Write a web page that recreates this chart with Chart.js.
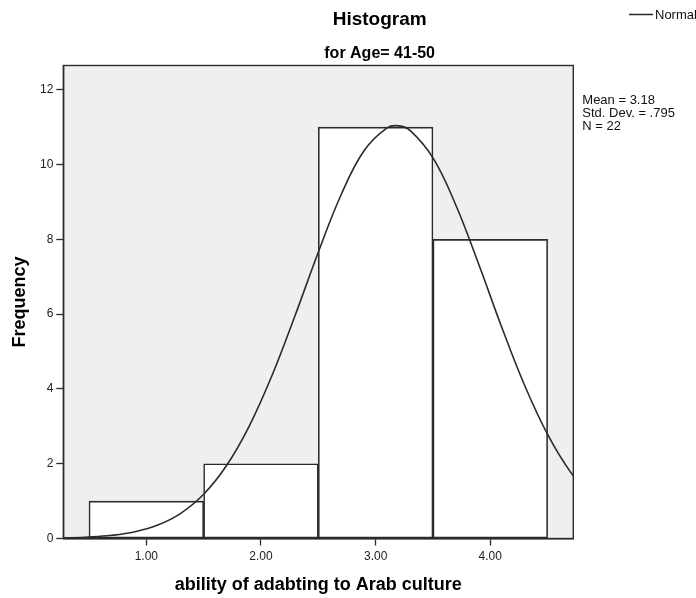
<!DOCTYPE html>
<html>
<head>
<meta charset="utf-8">
<script src="https://cdn.jsdelivr.net/npm/chart.js@4/dist/chart.umd.min.js"></script>
<style>
  html, body { margin: 0; padding: 0; background: #fff; }
  canvas { display: block; }
</style>
</head>
<body>
<canvas id="histChart" width="696" height="598"></canvas>
<script>
// histogram bins (centres) and counts
const binCenters = [1, 2, 3, 4];
const frequencies = [1, 2, 11, 8];

// normal curve
const curveX = [0.1, 0.3, 0.5, 0.7, 0.9, 1.1, 1.3, 1.5, 1.7, 1.9, 2.1, 2.3, 2.5, 2.7, 2.9, 3.1, 3.2, 3.3, 3.5, 3.7, 3.9, 4.1, 4.3, 4.5, 4.7, 4.9];
const curveY = [0.006, 0.016, 0.038, 0.085, 0.181, 0.36, 0.674, 1.183, 1.952, 3.021, 4.387, 5.983, 7.657, 9.201, 10.377, 10.984, 11.036, 10.915, 10.181, 8.914, 7.326, 5.651, 4.093, 2.782, 1.775, 1.063];

// tick labels
const xTickValues = [1, 2, 3, 4];
const yTickValues = [0, 2, 4, 6, 8, 10, 12];

const statLines = ["Mean = 3.18", "Std. Dev. = .795", "N = 22"];

const FONT = 'Arial, "Liberation Sans", sans-serif';
const INK = "#2b2b2b";

// gray plot background, frame and the SPSS-style texts
const spssDecor = {
  id: "spssDecor",
  beforeDraw(chart) {
    const { ctx, chartArea: a } = chart;
    ctx.save();
    ctx.fillStyle = "#efefef";
    ctx.fillRect(a.left, a.top, a.right - a.left, a.bottom - a.top);
    ctx.restore();
  },
  afterDatasetsDraw(chart) {
    const { ctx, chartArea: a } = chart;
    ctx.save();
    ctx.strokeStyle = INK;
    ctx.lineWidth = 1.4;
    ctx.strokeRect(a.left, a.top, a.right - a.left, a.bottom - a.top);
    ctx.restore();
  },
  afterDraw(chart) {
    const ctx = chart.ctx;
    const cx = (chart.chartArea.left + chart.width) / 2;
    ctx.save();
    ctx.fillStyle = "#000";
    ctx.textAlign = "center";
    ctx.textBaseline = "alphabetic";
    ctx.font = "bold 19px " + FONT;
    ctx.fillText("Histogram", cx, 25);
    ctx.font = "bold 16px " + FONT;
    ctx.fillText("for Age= 41-50", cx, 58);

    // legend
    ctx.strokeStyle = INK;
    ctx.lineWidth = 1.5;
    ctx.beginPath();
    ctx.moveTo(629, 14.5);
    ctx.lineTo(653, 14.5);
    ctx.stroke();
    ctx.textAlign = "left";
    ctx.fillStyle = "#111";
    ctx.font = "13px " + FONT;
    ctx.fillText("Normal", 655, 19);

    // stats box
    const x0 = chart.chartArea.right + 9;
    statLines.forEach((t, i) => ctx.fillText(t, x0, 104 + i * 13));
    ctx.restore();
  },
};

new Chart(document.getElementById("histChart"), {
  type: "bar",
  data: {
    datasets: [
      {
        type: "line",
        label: "Normal",
        data: curveX.map((x, i) => ({ x: x, y: curveY[i] })),
        borderColor: INK,
        borderWidth: 1.6,
        pointRadius: 0,
        tension: 0.4,
        fill: false,
        order: 1,
      },
      {
        label: "Frequency",
        data: binCenters.map((x, i) => ({ x: x, y: frequencies[i] })),
        backgroundColor: "#ffffff",
        borderColor: INK,
        borderWidth: 1.6,
        borderSkipped: false,
        barPercentage: 1,
        categoryPercentage: 1,
        order: 2,
      },
    ],
  },
  options: {
    responsive: false,
    animation: false,
    devicePixelRatio: 1,
    layout: { padding: { top: 65.5, right: 122.7, left: 0, bottom: 0 } },
    plugins: {
      legend: { display: false },
      tooltip: { enabled: false },
      title: { display: false },
    },
    scales: {
      x: {
        type: "linear",
        min: 0.276,
        max: 4.724,
        offset: false,
        grid: { offset: false, drawOnChartArea: false, drawTicks: true, tickLength: 7, tickColor: INK, tickWidth: 1.3 },
        border: { display: true, color: INK, width: 1.4 },
        afterBuildTicks: (scale) => {
          scale.ticks = xTickValues.map((v) => ({ value: v }));
        },
        afterFit: (scale) => {
          scale.height = 59.5;
        },
        ticks: {
          padding: 4,
          color: "#222",
          font: { family: FONT, size: 12 },
          maxRotation: 0,
          callback: (v) => Number(v).toFixed(2),
        },
        title: {
          display: true,
          text: "ability of adabting to Arab culture",
          color: "#000",
          font: { family: FONT, size: 18, weight: "bold" },
          padding: { top: 0, bottom: 2 },
        },
      },
      y: {
        type: "linear",
        min: 0,
        max: 12.65,
        grid: { drawOnChartArea: false, drawTicks: true, tickLength: 7, tickColor: INK, tickWidth: 1.3 },
        border: { display: true, color: INK, width: 1.4 },
        afterBuildTicks: (scale) => {
          scale.ticks = yTickValues.map((v) => ({ value: v }));
        },
        afterFit: (scale) => {
          scale.width = 63.3;
        },
        ticks: {
          padding: 3,
          color: "#222",
          font: { family: FONT, size: 12 },
        },
        title: {
          display: true,
          text: "Frequency",
          color: "#000",
          font: { family: FONT, size: 18, weight: "bold" },
          padding: { top: 9, bottom: 0 },
        },
      },
    },
  },
  plugins: [spssDecor],
});
</script>
</body>
</html>
